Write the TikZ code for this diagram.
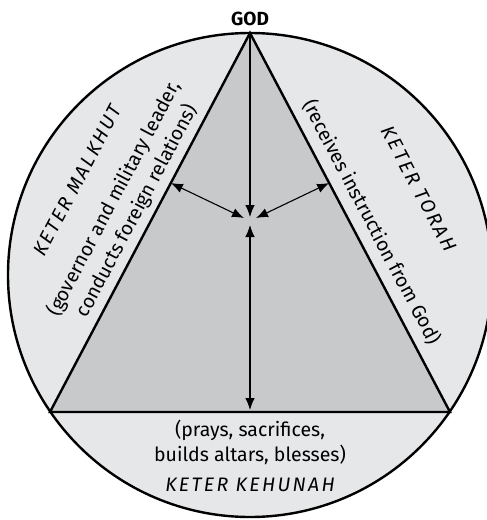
\documentclass[tikz,border=0pt]{standalone}
\usepackage{fontspec}
\setmainfont{Fira Sans}
\usetikzlibrary{arrows.meta}
\definecolor{ringfill}{HTML}{E6E7E8}
\definecolor{trifill}{HTML}{C8C9CB}
\tikzset{
  outline/.style={line width=2.4pt, line join=miter},
  link/.style={line width=1.1pt, {Latex[length=12pt,width=9.5pt]}-{Latex[length=12pt,width=9.5pt]}},
  onelink/.style={line width=1.1pt, -{Latex[length=12pt,width=9.5pt]}},
  body/.style={font=\fontsize{19.5}{26}\selectfont, inner sep=0pt, anchor=base},
  crown/.style={font=\fontsize{19.5}{26}\selectfont\itshape\addfontfeatures{LetterSpace=12}, inner sep=0pt, anchor=base},
}
\begin{document}
\begin{tikzpicture}[x=1pt,y=-1pt]
\useasboundingbox (0,0) rectangle (487,520);
\clip (0,0) rectangle (487,520);
\coordinate (C) at (250,275);
\coordinate (A) at (250,33);
\coordinate (BL) at (50,412);
\coordinate (BR) at (450,412);
\coordinate (MT) at (250,217);
\coordinate (MB) at (250,225);
\coordinate (ML) at (244,218);
\coordinate (MR) at (256,218);
\coordinate (EL) at (170.8,183);
\coordinate (ER) at (329.2,183);
\coordinate (EB) at (250,410);
\fill[ringfill] (C) circle (242);
\fill[trifill] (A) -- (BL) -- (BR) -- cycle;
\draw[outline] (C) circle (242);
\draw[outline] (A) -- (BL) -- (BR) -- cycle;
\draw[onelink] (A) -- (MT);
\draw[link] (MB) -- (EB);
\draw[link] (EL) -- (ML);
\draw[link] (ER) -- (MR);
\node[font=\fontsize{19}{22}\selectfont\bfseries, inner sep=0pt, anchor=base] (god) at (250,25) {GOD};
\node[crown, rotate=62.18] (malkhut) at (83.4,183.7) {KETER MALKHUT};
\node[body, rotate=62.18] (malkhut1) at (119.3,201.4) {(governor and military leader,};
\node[body, rotate=62.18] (malkhut2) at (142.3,213.6) {conducts foreign relations)};
\node[crown, rotate=-62.18] (torah) at (413,192) {KETER TORAH};
\node[body, rotate=-62.18] (torahdesc) at (366,225) {(receives instruction from God)};
\node[body] (kehunah1) at (250,436.7) {(prays, sacrifices,};
\node[body] (kehunah2) at (250,461.7) {builds altars, blesses)};
\node[crown] (kehunah) at (250,491) {KETER KEHUNAH};
\end{tikzpicture}
\end{document}
